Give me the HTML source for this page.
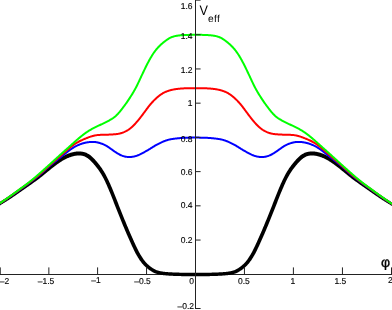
<!DOCTYPE html>
<html><head><meta charset="utf-8"><title>V_eff</title>
<style>
html,body{margin:0;padding:0;background:#fff;}
body{width:392px;height:310px;overflow:hidden;}
svg{display:block;will-change:transform;}
text{font-family:"Liberation Sans",sans-serif;fill:#000;text-rendering:geometricPrecision;}
</style></head><body>
<svg width="392" height="310" viewBox="0 0 392 310">
<rect width="392" height="310" fill="#fff"/>
<line x1="0" y1="274.5" x2="392" y2="274.5" stroke="#222" stroke-width="1"/>
<g fill="none" stroke-linejoin="round" stroke-linecap="butt">
<path fill="#000" stroke="none" d="M-1.21,206.15 L-0.71,205.85 L-0.21,205.54 L0.29,205.23 L0.79,204.92 L1.29,204.61 L1.80,204.30 L2.30,203.99 L2.80,203.68 L3.30,203.37 L3.81,203.06 L4.31,202.75 L4.81,202.44 L5.32,202.12 L5.82,201.81 L6.32,201.49 L6.83,201.17 L7.33,200.85 L7.84,200.53 L8.34,200.21 L8.84,199.89 L9.35,199.56 L9.85,199.23 L10.36,198.90 L10.87,198.56 L11.37,198.23 L11.88,197.89 L12.38,197.55 L12.89,197.21 L13.39,196.87 L13.90,196.52 L14.40,196.17 L14.90,195.83 L15.41,195.48 L15.91,195.13 L16.41,194.78 L16.92,194.43 L17.42,194.08 L17.92,193.73 L18.42,193.38 L18.92,193.03 L19.42,192.68 L19.92,192.33 L20.42,191.98 L20.93,191.63 L21.43,191.28 L21.93,190.93 L22.43,190.59 L22.93,190.24 L23.43,189.89 L23.93,189.55 L24.43,189.20 L24.93,188.86 L25.44,188.51 L25.94,188.16 L26.44,187.81 L26.94,187.46 L27.45,187.12 L27.95,186.77 L28.45,186.41 L28.96,186.06 L29.46,185.71 L29.96,185.35 L30.47,185.00 L30.97,184.64 L31.47,184.29 L31.98,183.93 L32.48,183.57 L32.98,183.21 L33.49,182.85 L33.99,182.48 L34.49,182.12 L35.00,181.76 L35.50,181.39 L36.01,181.02 L36.51,180.65 L37.02,180.28 L37.52,179.90 L38.03,179.53 L38.53,179.15 L39.04,178.76 L39.55,178.38 L40.05,177.99 L40.56,177.60 L41.07,177.20 L41.57,176.80 L42.08,176.40 L42.59,175.99 L43.09,175.58 L43.60,175.17 L44.11,174.76 L44.61,174.34 L45.12,173.93 L45.62,173.51 L46.12,173.10 L46.62,172.68 L47.13,172.26 L47.63,171.85 L48.13,171.44 L48.63,171.03 L49.13,170.63 L49.63,170.22 L50.13,169.82 L50.63,169.42 L51.13,169.02 L51.63,168.62 L52.13,168.23 L52.63,167.84 L53.13,167.45 L53.63,167.06 L54.13,166.67 L54.62,166.29 L55.12,165.91 L55.62,165.53 L56.11,165.16 L56.61,164.79 L57.10,164.43 L57.59,164.08 L58.09,163.73 L58.58,163.39 L59.07,163.05 L59.56,162.72 L60.05,162.40 L60.54,162.08 L61.02,161.77 L61.51,161.46 L62.00,161.16 L62.49,160.87 L62.98,160.58 L63.47,160.30 L63.96,160.02 L64.44,159.76 L64.93,159.49 L65.41,159.24 L65.89,158.99 L66.37,158.75 L66.85,158.52 L67.33,158.30 L67.81,158.09 L68.28,157.88 L68.76,157.69 L69.23,157.50 L69.71,157.32 L70.18,157.15 L70.65,156.99 L71.13,156.83 L71.60,156.68 L72.07,156.54 L72.53,156.41 L73.00,156.28 L73.47,156.16 L73.93,156.06 L74.40,155.96 L74.86,155.87 L75.33,155.79 L75.79,155.71 L76.25,155.65 L76.72,155.60 L77.18,155.55 L77.64,155.51 L78.09,155.49 L78.55,155.47 L79.00,155.46 L79.46,155.47 L79.90,155.48 L80.35,155.51 L80.80,155.55 L81.24,155.60 L81.68,155.67 L82.12,155.75 L82.56,155.84 L82.99,155.94 L83.42,156.07 L83.86,156.20 L84.29,156.36 L84.72,156.53 L85.15,156.73 L85.59,156.94 L86.03,157.17 L86.47,157.43 L86.91,157.71 L87.36,158.01 L87.81,158.33 L88.26,158.68 L88.72,159.05 L89.18,159.45 L89.65,159.86 L90.13,160.29 L90.60,160.75 L91.08,161.23 L91.57,161.72 L92.05,162.24 L92.54,162.77 L93.03,163.31 L93.53,163.86 L94.02,164.43 L94.51,165.01 L95.01,165.60 L95.50,166.20 L95.99,166.81 L96.49,167.43 L96.98,168.06 L97.47,168.71 L97.96,169.37 L98.46,170.05 L98.95,170.74 L99.44,171.46 L99.93,172.20 L100.42,172.96 L100.91,173.74 L101.40,174.55 L101.89,175.39 L102.39,176.26 L102.88,177.16 L103.37,178.09 L103.87,179.04 L104.36,180.03 L104.85,181.05 L105.35,182.09 L105.84,183.15 L106.34,184.24 L106.83,185.35 L107.33,186.48 L107.82,187.63 L108.32,188.79 L108.82,189.97 L109.31,191.16 L109.81,192.37 L110.31,193.59 L110.81,194.82 L111.31,196.06 L111.80,197.32 L112.30,198.58 L112.80,199.85 L113.30,201.12 L113.80,202.39 L114.30,203.67 L114.80,204.95 L115.30,206.22 L115.80,207.50 L116.30,208.77 L116.80,210.04 L117.30,211.30 L117.80,212.56 L118.31,213.82 L118.81,215.07 L119.31,216.32 L119.81,217.56 L120.31,218.80 L120.81,220.04 L121.31,221.27 L121.81,222.49 L122.31,223.71 L122.81,224.92 L123.32,226.13 L123.82,227.33 L124.32,228.52 L124.82,229.71 L125.32,230.89 L125.82,232.07 L126.32,233.24 L126.83,234.40 L127.33,235.55 L127.83,236.70 L128.33,237.84 L128.83,238.98 L129.33,240.10 L129.84,241.23 L130.34,242.34 L130.84,243.45 L131.34,244.55 L131.84,245.64 L132.35,246.72 L132.85,247.80 L133.35,248.85 L133.86,249.90 L134.37,250.93 L134.87,251.93 L135.38,252.92 L135.89,253.88 L136.40,254.82 L136.91,255.73 L137.43,256.62 L137.94,257.48 L138.46,258.31 L138.97,259.11 L139.49,259.89 L140.01,260.64 L140.53,261.37 L141.05,262.07 L141.58,262.74 L142.10,263.39 L142.63,264.01 L143.15,264.61 L143.68,265.19 L144.21,265.74 L144.74,266.26 L145.26,266.77 L145.79,267.25 L146.32,267.72 L146.85,268.17 L147.37,268.60 L147.90,269.01 L148.43,269.41 L148.95,269.80 L149.48,270.17 L150.00,270.53 L150.53,270.87 L151.05,271.21 L151.58,271.53 L152.11,271.84 L152.65,272.14 L153.18,272.42 L153.72,272.69 L154.26,272.95 L154.81,273.19 L155.35,273.41 L155.90,273.61 L156.44,273.80 L156.99,273.97 L157.53,274.13 L158.07,274.27 L158.60,274.39 L159.14,274.51 L159.67,274.61 L160.19,274.71 L160.71,274.80 L161.23,274.88 L161.75,274.96 L162.27,275.03 L162.78,275.09 L163.29,275.15 L163.81,275.21 L164.32,275.26 L164.83,275.32 L165.34,275.36 L165.85,275.41 L166.36,275.45 L166.86,275.49 L167.37,275.53 L167.88,275.57 L168.38,275.61 L168.89,275.64 L169.39,275.67 L169.90,275.70 L170.40,275.73 L170.91,275.76 L171.41,275.78 L171.92,275.81 L172.42,275.83 L172.92,275.86 L173.43,275.88 L173.93,275.90 L174.43,275.92 L174.93,275.94 L175.44,275.96 L175.94,275.97 L176.44,275.99 L176.94,276.01 L177.44,276.03 L177.95,276.04 L178.45,276.06 L178.95,276.07 L179.45,276.09 L179.95,276.10 L180.46,276.11 L180.96,276.12 L181.46,276.14 L181.97,276.15 L182.47,276.16 L182.97,276.16 L183.47,276.17 L183.98,276.18 L184.48,276.19 L184.98,276.19 L185.48,276.20 L185.98,276.20 L186.49,276.21 L186.99,276.21 L187.49,276.21 L187.99,276.22 L188.49,276.22 L188.99,276.22 L189.50,276.22 L190.00,276.22 L190.50,276.22 L191.00,276.22 L191.50,276.22 L192.00,276.22 L192.50,276.22 L193.00,276.22 L193.50,276.22 L194.00,276.22 L194.50,276.22 L195.00,276.22 L195.50,276.22 L196.00,276.22 L196.50,276.22 L197.00,276.22 L197.50,276.22 L198.00,276.22 L198.50,276.22 L199.00,276.22 L199.50,276.22 L200.00,276.22 L200.50,276.22 L201.00,276.22 L201.50,276.22 L202.01,276.22 L202.51,276.22 L203.01,276.22 L203.51,276.21 L204.01,276.21 L204.51,276.21 L205.02,276.20 L205.52,276.20 L206.02,276.19 L206.52,276.19 L207.02,276.18 L207.53,276.17 L208.03,276.16 L208.53,276.16 L209.03,276.15 L209.54,276.14 L210.04,276.12 L210.54,276.11 L211.05,276.10 L211.55,276.09 L212.05,276.07 L212.55,276.06 L213.05,276.04 L213.56,276.03 L214.06,276.01 L214.56,275.99 L215.06,275.97 L215.56,275.96 L216.07,275.94 L216.57,275.92 L217.07,275.90 L217.57,275.88 L218.08,275.86 L218.58,275.83 L219.08,275.81 L219.59,275.78 L220.09,275.76 L220.60,275.73 L221.10,275.70 L221.61,275.67 L222.11,275.64 L222.62,275.61 L223.12,275.57 L223.63,275.53 L224.14,275.49 L224.64,275.45 L225.15,275.41 L225.66,275.36 L226.17,275.32 L226.68,275.26 L227.19,275.21 L227.71,275.15 L228.22,275.09 L228.73,275.03 L229.25,274.96 L229.77,274.88 L230.29,274.80 L230.81,274.71 L231.33,274.61 L231.86,274.51 L232.40,274.39 L232.93,274.27 L233.47,274.13 L234.01,273.97 L234.56,273.80 L235.10,273.61 L235.65,273.41 L236.19,273.19 L236.74,272.95 L237.28,272.69 L237.82,272.42 L238.35,272.14 L238.89,271.84 L239.42,271.53 L239.95,271.21 L240.47,270.87 L241.00,270.53 L241.52,270.17 L242.05,269.80 L242.57,269.41 L243.10,269.01 L243.63,268.60 L244.15,268.17 L244.68,267.72 L245.21,267.25 L245.74,266.77 L246.26,266.26 L246.79,265.74 L247.32,265.19 L247.85,264.61 L248.37,264.01 L248.90,263.39 L249.42,262.74 L249.95,262.07 L250.47,261.37 L250.99,260.64 L251.51,259.89 L252.03,259.11 L252.54,258.31 L253.06,257.48 L253.57,256.62 L254.09,255.73 L254.60,254.82 L255.11,253.88 L255.62,252.92 L256.13,251.93 L256.63,250.93 L257.14,249.90 L257.65,248.85 L258.15,247.80 L258.65,246.72 L259.16,245.64 L259.66,244.55 L260.16,243.45 L260.66,242.34 L261.16,241.23 L261.67,240.10 L262.17,238.98 L262.67,237.84 L263.17,236.70 L263.67,235.55 L264.17,234.40 L264.68,233.24 L265.18,232.07 L265.68,230.89 L266.18,229.71 L266.68,228.52 L267.18,227.33 L267.68,226.13 L268.19,224.92 L268.69,223.71 L269.19,222.49 L269.69,221.27 L270.19,220.04 L270.69,218.80 L271.19,217.56 L271.69,216.32 L272.19,215.07 L272.69,213.82 L273.20,212.56 L273.70,211.30 L274.20,210.04 L274.70,208.77 L275.20,207.50 L275.70,206.22 L276.20,204.95 L276.70,203.67 L277.20,202.39 L277.70,201.12 L278.20,199.85 L278.70,198.58 L279.20,197.32 L279.69,196.06 L280.19,194.82 L280.69,193.59 L281.19,192.37 L281.69,191.16 L282.18,189.97 L282.68,188.79 L283.18,187.63 L283.67,186.48 L284.17,185.35 L284.66,184.24 L285.16,183.15 L285.65,182.09 L286.15,181.05 L286.64,180.03 L287.13,179.04 L287.63,178.09 L288.12,177.16 L288.61,176.26 L289.11,175.39 L289.60,174.55 L290.09,173.74 L290.58,172.96 L291.07,172.20 L291.56,171.46 L292.05,170.74 L292.54,170.05 L293.04,169.37 L293.53,168.71 L294.02,168.06 L294.51,167.43 L295.01,166.81 L295.50,166.20 L295.99,165.60 L296.49,165.01 L296.98,164.43 L297.47,163.86 L297.97,163.31 L298.46,162.77 L298.95,162.24 L299.43,161.72 L299.92,161.23 L300.40,160.75 L300.87,160.29 L301.35,159.86 L301.82,159.45 L302.28,159.05 L302.74,158.68 L303.19,158.33 L303.64,158.01 L304.09,157.71 L304.53,157.43 L304.97,157.17 L305.41,156.94 L305.85,156.73 L306.28,156.53 L306.71,156.36 L307.14,156.20 L307.58,156.07 L308.01,155.94 L308.44,155.84 L308.88,155.75 L309.32,155.67 L309.76,155.60 L310.20,155.55 L310.65,155.51 L311.10,155.48 L311.54,155.47 L312.00,155.46 L312.45,155.47 L312.91,155.49 L313.36,155.51 L313.82,155.55 L314.28,155.60 L314.75,155.65 L315.21,155.71 L315.67,155.79 L316.14,155.87 L316.60,155.96 L317.07,156.06 L317.53,156.16 L318.00,156.28 L318.47,156.41 L318.93,156.54 L319.40,156.68 L319.87,156.83 L320.35,156.99 L320.82,157.15 L321.29,157.32 L321.77,157.50 L322.24,157.69 L322.72,157.88 L323.19,158.09 L323.67,158.30 L324.15,158.52 L324.63,158.75 L325.11,158.99 L325.59,159.24 L326.07,159.49 L326.56,159.76 L327.04,160.02 L327.53,160.30 L328.02,160.58 L328.51,160.87 L329.00,161.16 L329.49,161.46 L329.98,161.77 L330.46,162.08 L330.95,162.40 L331.44,162.72 L331.93,163.05 L332.42,163.39 L332.91,163.73 L333.41,164.08 L333.90,164.43 L334.39,164.79 L334.89,165.16 L335.38,165.53 L335.88,165.91 L336.38,166.29 L336.87,166.67 L337.37,167.06 L337.87,167.45 L338.37,167.84 L338.87,168.23 L339.37,168.62 L339.87,169.02 L340.37,169.42 L340.87,169.82 L341.37,170.22 L341.87,170.63 L342.37,171.03 L342.87,171.44 L343.37,171.85 L343.87,172.26 L344.38,172.68 L344.88,173.10 L345.38,173.51 L345.88,173.93 L346.39,174.34 L346.89,174.76 L347.40,175.17 L347.91,175.58 L348.41,175.99 L348.92,176.40 L349.43,176.80 L349.93,177.20 L350.44,177.60 L350.95,177.99 L351.45,178.38 L351.96,178.76 L352.47,179.15 L352.97,179.53 L353.48,179.90 L353.98,180.28 L354.49,180.65 L354.99,181.02 L355.50,181.39 L356.00,181.76 L356.51,182.12 L357.01,182.48 L357.51,182.85 L358.02,183.21 L358.52,183.57 L359.02,183.93 L359.53,184.29 L360.03,184.64 L360.53,185.00 L361.04,185.35 L361.54,185.71 L362.04,186.06 L362.55,186.41 L363.05,186.77 L363.55,187.12 L364.06,187.46 L364.56,187.81 L365.06,188.16 L365.56,188.51 L366.07,188.86 L366.57,189.20 L367.07,189.55 L367.57,189.89 L368.07,190.24 L368.57,190.59 L369.07,190.93 L369.57,191.28 L370.07,191.63 L370.58,191.98 L371.08,192.33 L371.58,192.68 L372.08,193.03 L372.58,193.38 L373.08,193.73 L373.58,194.08 L374.08,194.43 L374.59,194.78 L375.09,195.13 L375.59,195.48 L376.10,195.83 L376.60,196.17 L377.10,196.52 L377.61,196.87 L378.11,197.21 L378.62,197.55 L379.12,197.89 L379.63,198.23 L380.13,198.56 L380.64,198.90 L381.15,199.23 L381.65,199.56 L382.16,199.89 L382.66,200.21 L383.16,200.53 L383.67,200.85 L384.17,201.17 L384.68,201.49 L385.18,201.81 L385.68,202.12 L386.19,202.44 L386.69,202.75 L387.19,203.06 L387.70,203.37 L388.20,203.68 L388.70,203.99 L389.20,204.30 L389.71,204.61 L390.21,204.92 L390.71,205.23 L391.21,205.54 L391.71,205.85 L392.21,206.15 L392.72,206.46 L393.22,206.77 L394.78,204.21 L394.28,203.90 L393.79,203.60 L393.29,203.29 L392.79,202.98 L392.29,202.68 L391.79,202.36 L391.29,202.05 L390.80,201.74 L390.30,201.43 L389.80,201.12 L389.30,200.80 L388.81,200.49 L388.31,200.17 L387.81,199.86 L387.32,199.54 L386.82,199.22 L386.32,198.91 L385.83,198.59 L385.33,198.27 L384.84,197.94 L384.34,197.62 L383.84,197.29 L383.35,196.97 L382.85,196.64 L382.36,196.31 L381.87,195.98 L381.37,195.64 L380.88,195.30 L380.38,194.96 L379.89,194.62 L379.39,194.28 L378.90,193.93 L378.40,193.59 L377.90,193.24 L377.41,192.89 L376.91,192.54 L376.41,192.18 L375.92,191.83 L375.42,191.47 L374.92,191.12 L374.42,190.76 L373.92,190.41 L373.42,190.05 L372.92,189.70 L372.42,189.34 L371.93,188.99 L371.43,188.64 L370.93,188.28 L370.43,187.93 L369.93,187.58 L369.43,187.23 L368.93,186.88 L368.43,186.53 L367.93,186.18 L367.44,185.83 L366.94,185.48 L366.44,185.12 L365.94,184.77 L365.45,184.42 L364.95,184.07 L364.45,183.71 L363.96,183.36 L363.46,183.00 L362.96,182.65 L362.47,182.29 L361.97,181.93 L361.47,181.57 L360.98,181.21 L360.48,180.85 L359.98,180.49 L359.49,180.13 L358.99,179.76 L358.49,179.40 L358.00,179.03 L357.50,178.67 L357.01,178.30 L356.51,177.93 L356.02,177.56 L355.52,177.18 L355.03,176.81 L354.53,176.43 L354.04,176.05 L353.55,175.67 L353.05,175.28 L352.56,174.89 L352.07,174.50 L351.57,174.11 L351.08,173.71 L350.59,173.31 L350.09,172.90 L349.60,172.49 L349.11,172.08 L348.61,171.67 L348.12,171.25 L347.62,170.83 L347.12,170.41 L346.62,169.99 L346.13,169.57 L345.63,169.15 L345.13,168.73 L344.63,168.31 L344.13,167.89 L343.63,167.47 L343.13,167.05 L342.63,166.64 L342.13,166.23 L341.63,165.82 L341.13,165.41 L340.63,165.00 L340.13,164.60 L339.63,164.20 L339.13,163.80 L338.62,163.40 L338.12,163.00 L337.62,162.61 L337.11,162.22 L336.61,161.83 L336.10,161.45 L335.59,161.07 L335.09,160.70 L334.58,160.33 L334.07,159.97 L333.56,159.61 L333.05,159.26 L332.54,158.92 L332.02,158.58 L331.51,158.25 L331.00,157.92 L330.49,157.61 L329.98,157.29 L329.47,156.98 L328.96,156.68 L328.44,156.39 L327.93,156.10 L327.41,155.81 L326.89,155.54 L326.37,155.27 L325.85,155.00 L325.33,154.75 L324.81,154.50 L324.28,154.27 L323.76,154.04 L323.23,153.82 L322.71,153.61 L322.18,153.41 L321.65,153.22 L321.13,153.03 L320.60,152.86 L320.07,152.70 L319.53,152.55 L319.00,152.41 L318.47,152.27 L317.93,152.15 L317.40,152.04 L316.86,151.93 L316.33,151.84 L315.79,151.76 L315.25,151.68 L314.72,151.62 L314.18,151.57 L313.64,151.52 L313.09,151.49 L312.55,151.47 L312.00,151.46 L311.46,151.47 L310.90,151.49 L310.35,151.52 L309.80,151.57 L309.24,151.64 L308.68,151.72 L308.12,151.82 L307.56,151.94 L306.99,152.08 L306.42,152.24 L305.86,152.42 L305.29,152.62 L304.72,152.85 L304.15,153.10 L303.59,153.38 L303.03,153.68 L302.47,154.01 L301.91,154.35 L301.36,154.73 L300.81,155.12 L300.26,155.54 L299.72,155.98 L299.18,156.44 L298.65,156.92 L298.13,157.42 L297.60,157.94 L297.08,158.47 L296.57,159.01 L296.05,159.57 L295.54,160.14 L295.03,160.73 L294.53,161.32 L294.02,161.92 L293.51,162.53 L293.01,163.15 L292.50,163.79 L291.99,164.43 L291.49,165.09 L290.98,165.76 L290.47,166.45 L289.96,167.15 L289.46,167.87 L288.95,168.61 L288.44,169.38 L287.93,170.16 L287.42,170.97 L286.91,171.81 L286.40,172.67 L285.89,173.56 L285.39,174.48 L284.88,175.43 L284.37,176.40 L283.87,177.40 L283.36,178.42 L282.85,179.47 L282.35,180.54 L281.84,181.63 L281.34,182.74 L280.83,183.87 L280.33,185.02 L279.82,186.18 L279.32,187.36 L278.82,188.56 L278.31,189.76 L277.81,190.98 L277.31,192.22 L276.81,193.46 L276.31,194.71 L275.80,195.97 L275.30,197.24 L274.80,198.51 L274.30,199.79 L273.80,201.06 L273.30,202.34 L272.80,203.62 L272.30,204.89 L271.80,206.16 L271.30,207.43 L270.80,208.69 L270.30,209.96 L269.80,211.21 L269.31,212.47 L268.81,213.71 L268.31,214.96 L267.81,216.20 L267.31,217.43 L266.81,218.66 L266.31,219.89 L265.81,221.10 L265.31,222.32 L264.81,223.52 L264.32,224.73 L263.82,225.92 L263.32,227.11 L262.82,228.29 L262.32,229.47 L261.82,230.63 L261.32,231.79 L260.83,232.95 L260.33,234.10 L259.83,235.24 L259.33,236.37 L258.83,237.50 L258.33,238.62 L257.84,239.73 L257.34,240.84 L256.84,241.94 L256.34,243.03 L255.84,244.11 L255.35,245.18 L254.85,246.23 L254.35,247.27 L253.86,248.30 L253.37,249.30 L252.87,250.28 L252.38,251.23 L251.89,252.16 L251.40,253.05 L250.91,253.93 L250.43,254.77 L249.94,255.58 L249.46,256.37 L248.97,257.12 L248.49,257.85 L248.01,258.55 L247.53,259.23 L247.05,259.88 L246.58,260.49 L246.10,261.09 L245.63,261.66 L245.15,262.20 L244.68,262.72 L244.21,263.22 L243.74,263.69 L243.26,264.15 L242.79,264.59 L242.32,265.01 L241.85,265.42 L241.37,265.81 L240.90,266.18 L240.43,266.55 L239.95,266.90 L239.48,267.24 L239.00,267.57 L238.53,267.89 L238.05,268.19 L237.58,268.49 L237.11,268.76 L236.65,269.03 L236.18,269.28 L235.72,269.51 L235.26,269.73 L234.81,269.94 L234.35,270.13 L233.90,270.30 L233.44,270.46 L232.99,270.61 L232.53,270.74 L232.07,270.87 L231.60,270.98 L231.14,271.09 L230.67,271.19 L230.19,271.28 L229.71,271.36 L229.23,271.44 L228.75,271.51 L228.27,271.58 L227.78,271.65 L227.29,271.71 L226.81,271.77 L226.32,271.83 L225.83,271.88 L225.34,271.93 L224.85,271.97 L224.36,272.02 L223.86,272.06 L223.37,272.09 L222.88,272.13 L222.38,272.16 L221.89,272.20 L221.39,272.23 L220.90,272.26 L220.40,272.29 L219.91,272.31 L219.41,272.34 L218.92,272.36 L218.42,272.39 L217.92,272.41 L217.43,272.43 L216.93,272.45 L216.43,272.47 L215.93,272.49 L215.44,272.51 L214.94,272.53 L214.44,272.54 L213.94,272.56 L213.44,272.58 L212.95,272.59 L212.45,272.61 L211.95,272.62 L211.45,272.64 L210.95,272.65 L210.46,272.66 L209.96,272.67 L209.46,272.69 L208.97,272.70 L208.47,272.71 L207.97,272.71 L207.47,272.72 L206.98,272.73 L206.48,272.74 L205.98,272.74 L205.48,272.75 L204.98,272.75 L204.49,272.76 L203.99,272.76 L203.49,272.76 L202.99,272.77 L202.49,272.77 L201.99,272.77 L201.50,272.77 L201.00,272.77 L200.50,272.77 L200.00,272.77 L199.50,272.77 L199.00,272.77 L198.50,272.77 L198.00,272.77 L197.50,272.77 L197.00,272.77 L196.50,272.77 L196.00,272.77 L195.50,272.77 L195.00,272.77 L194.50,272.77 L194.00,272.77 L193.50,272.77 L193.00,272.77 L192.50,272.77 L192.00,272.77 L191.50,272.77 L191.00,272.77 L190.50,272.77 L190.00,272.77 L189.50,272.77 L189.01,272.77 L188.51,272.77 L188.01,272.77 L187.51,272.76 L187.01,272.76 L186.51,272.76 L186.02,272.75 L185.52,272.75 L185.02,272.74 L184.52,272.74 L184.02,272.73 L183.53,272.72 L183.03,272.71 L182.53,272.71 L182.03,272.70 L181.54,272.69 L181.04,272.67 L180.54,272.66 L180.05,272.65 L179.55,272.64 L179.05,272.62 L178.55,272.61 L178.05,272.59 L177.56,272.58 L177.06,272.56 L176.56,272.54 L176.06,272.53 L175.56,272.51 L175.07,272.49 L174.57,272.47 L174.07,272.45 L173.57,272.43 L173.08,272.41 L172.58,272.39 L172.08,272.36 L171.59,272.34 L171.09,272.31 L170.60,272.29 L170.10,272.26 L169.61,272.23 L169.11,272.20 L168.62,272.16 L168.12,272.13 L167.63,272.09 L167.14,272.06 L166.64,272.02 L166.15,271.97 L165.66,271.93 L165.17,271.88 L164.68,271.83 L164.19,271.77 L163.71,271.71 L163.22,271.65 L162.73,271.58 L162.25,271.51 L161.77,271.44 L161.29,271.36 L160.81,271.28 L160.33,271.19 L159.86,271.09 L159.40,270.98 L158.93,270.87 L158.47,270.74 L158.01,270.61 L157.56,270.46 L157.10,270.30 L156.65,270.13 L156.19,269.94 L155.74,269.73 L155.28,269.51 L154.82,269.28 L154.35,269.03 L153.89,268.76 L153.42,268.49 L152.95,268.19 L152.47,267.89 L152.00,267.57 L151.52,267.24 L151.05,266.90 L150.57,266.55 L150.10,266.18 L149.63,265.81 L149.15,265.42 L148.68,265.01 L148.21,264.59 L147.74,264.15 L147.26,263.69 L146.79,263.22 L146.32,262.72 L145.85,262.20 L145.37,261.66 L144.90,261.09 L144.42,260.49 L143.95,259.88 L143.47,259.23 L142.99,258.55 L142.51,257.85 L142.03,257.12 L141.54,256.37 L141.06,255.58 L140.57,254.77 L140.09,253.93 L139.60,253.05 L139.11,252.16 L138.62,251.23 L138.13,250.28 L137.63,249.30 L137.14,248.30 L136.65,247.27 L136.15,246.23 L135.65,245.18 L135.16,244.11 L134.66,243.03 L134.16,241.94 L133.66,240.84 L133.16,239.73 L132.67,238.62 L132.17,237.50 L131.67,236.37 L131.17,235.24 L130.67,234.10 L130.17,232.95 L129.68,231.79 L129.18,230.63 L128.68,229.47 L128.18,228.29 L127.68,227.11 L127.18,225.92 L126.68,224.73 L126.19,223.52 L125.69,222.32 L125.19,221.10 L124.69,219.89 L124.19,218.66 L123.69,217.43 L123.19,216.20 L122.69,214.96 L122.19,213.71 L121.69,212.47 L121.20,211.21 L120.70,209.96 L120.20,208.69 L119.70,207.43 L119.20,206.16 L118.70,204.89 L118.20,203.62 L117.70,202.34 L117.20,201.06 L116.70,199.79 L116.20,198.51 L115.70,197.24 L115.20,195.97 L114.69,194.71 L114.19,193.46 L113.69,192.22 L113.19,190.98 L112.69,189.76 L112.18,188.56 L111.68,187.36 L111.18,186.18 L110.67,185.02 L110.17,183.87 L109.66,182.74 L109.16,181.63 L108.65,180.54 L108.15,179.47 L107.64,178.42 L107.13,177.40 L106.63,176.40 L106.12,175.43 L105.61,174.48 L105.11,173.56 L104.60,172.67 L104.09,171.81 L103.58,170.97 L103.07,170.16 L102.56,169.38 L102.05,168.61 L101.54,167.87 L101.04,167.15 L100.53,166.45 L100.02,165.76 L99.51,165.09 L99.01,164.43 L98.50,163.79 L97.99,163.15 L97.49,162.53 L96.98,161.92 L96.47,161.32 L95.97,160.73 L95.46,160.14 L94.95,159.57 L94.43,159.01 L93.92,158.47 L93.40,157.94 L92.87,157.42 L92.35,156.92 L91.82,156.44 L91.28,155.98 L90.74,155.54 L90.19,155.12 L89.64,154.73 L89.09,154.35 L88.53,154.01 L87.97,153.68 L87.41,153.38 L86.85,153.10 L86.28,152.85 L85.71,152.62 L85.14,152.42 L84.58,152.24 L84.01,152.08 L83.44,151.94 L82.88,151.82 L82.32,151.72 L81.76,151.64 L81.20,151.57 L80.65,151.52 L80.10,151.49 L79.54,151.47 L79.00,151.46 L78.45,151.47 L77.91,151.49 L77.36,151.52 L76.82,151.57 L76.28,151.62 L75.75,151.68 L75.21,151.76 L74.67,151.84 L74.14,151.93 L73.60,152.04 L73.07,152.15 L72.53,152.27 L72.00,152.41 L71.47,152.55 L70.93,152.70 L70.40,152.86 L69.87,153.03 L69.35,153.22 L68.82,153.41 L68.29,153.61 L67.77,153.82 L67.24,154.04 L66.72,154.27 L66.19,154.50 L65.67,154.75 L65.15,155.00 L64.63,155.27 L64.11,155.54 L63.59,155.81 L63.07,156.10 L62.56,156.39 L62.04,156.68 L61.53,156.98 L61.02,157.29 L60.51,157.61 L60.00,157.92 L59.49,158.25 L58.98,158.58 L58.46,158.92 L57.95,159.26 L57.44,159.61 L56.93,159.97 L56.42,160.33 L55.91,160.70 L55.41,161.07 L54.90,161.45 L54.39,161.83 L53.89,162.22 L53.38,162.61 L52.88,163.00 L52.38,163.40 L51.87,163.80 L51.37,164.20 L50.87,164.60 L50.37,165.00 L49.87,165.41 L49.37,165.82 L48.87,166.23 L48.37,166.64 L47.87,167.05 L47.37,167.47 L46.87,167.89 L46.37,168.31 L45.87,168.73 L45.37,169.15 L44.87,169.57 L44.38,169.99 L43.88,170.41 L43.38,170.83 L42.88,171.25 L42.39,171.67 L41.89,172.08 L41.40,172.49 L40.91,172.90 L40.41,173.31 L39.92,173.71 L39.43,174.11 L38.93,174.50 L38.44,174.89 L37.95,175.28 L37.45,175.67 L36.96,176.05 L36.47,176.43 L35.97,176.81 L35.48,177.18 L34.98,177.56 L34.49,177.93 L33.99,178.30 L33.50,178.67 L33.00,179.03 L32.51,179.40 L32.01,179.76 L31.51,180.13 L31.02,180.49 L30.52,180.85 L30.02,181.21 L29.53,181.57 L29.03,181.93 L28.53,182.29 L28.04,182.65 L27.54,183.00 L27.04,183.36 L26.55,183.71 L26.05,184.07 L25.55,184.42 L25.06,184.77 L24.56,185.12 L24.06,185.48 L23.56,185.83 L23.07,186.18 L22.57,186.53 L22.07,186.88 L21.57,187.23 L21.07,187.58 L20.57,187.93 L20.07,188.28 L19.57,188.64 L19.07,188.99 L18.58,189.34 L18.08,189.70 L17.58,190.05 L17.08,190.41 L16.58,190.76 L16.08,191.12 L15.58,191.47 L15.08,191.83 L14.59,192.18 L14.09,192.54 L13.59,192.89 L13.10,193.24 L12.60,193.59 L12.10,193.93 L11.61,194.28 L11.11,194.62 L10.62,194.96 L10.12,195.30 L9.63,195.64 L9.13,195.98 L8.64,196.31 L8.15,196.64 L7.65,196.97 L7.16,197.29 L6.66,197.62 L6.16,197.94 L5.67,198.27 L5.17,198.59 L4.68,198.91 L4.18,199.22 L3.68,199.54 L3.19,199.86 L2.69,200.17 L2.19,200.49 L1.70,200.80 L1.20,201.12 L0.70,201.43 L0.20,201.74 L-0.29,202.05 L-0.79,202.36 L-1.29,202.68 L-1.79,202.98 L-2.29,203.29 L-2.79,203.60Z"/>
<path stroke="#0000ff" stroke-width="2.0" d="M-2.0,204.68 L-1.5,204.34 L-1.0,204.01 L-0.5,203.68 L0.0,203.35 L0.5,203.02 L1.0,202.69 L1.5,202.36 L2.0,202.03 L2.5,201.70 L3.0,201.37 L3.5,201.04 L4.0,200.71 L4.5,200.38 L5.0,200.05 L5.5,199.71 L6.0,199.38 L6.5,199.05 L7.0,198.71 L7.5,198.38 L8.0,198.04 L8.5,197.70 L9.0,197.36 L9.5,197.02 L10.0,196.68 L10.5,196.33 L11.0,195.99 L11.5,195.64 L12.0,195.29 L12.5,194.94 L13.0,194.59 L13.5,194.24 L14.0,193.89 L14.5,193.53 L15.0,193.18 L15.5,192.82 L16.0,192.46 L16.5,192.11 L17.0,191.75 L17.5,191.39 L18.0,191.03 L18.5,190.68 L19.0,190.32 L19.5,189.96 L20.0,189.60 L20.5,189.25 L21.0,188.89 L21.5,188.53 L22.0,188.17 L22.5,187.82 L23.0,187.46 L23.5,187.10 L24.0,186.74 L24.5,186.39 L25.0,186.03 L25.5,185.67 L26.0,185.31 L26.5,184.95 L27.0,184.58 L27.5,184.22 L28.0,183.86 L28.5,183.49 L29.0,183.12 L29.5,182.76 L30.0,182.39 L30.5,182.02 L31.0,181.65 L31.5,181.27 L32.0,180.90 L32.5,180.53 L33.0,180.15 L33.5,179.77 L34.0,179.39 L34.5,179.01 L35.0,178.63 L35.5,178.25 L36.0,177.86 L36.5,177.47 L37.0,177.07 L37.5,176.68 L38.0,176.28 L38.5,175.87 L39.0,175.46 L39.5,175.05 L40.0,174.63 L40.5,174.20 L41.0,173.77 L41.5,173.34 L42.0,172.90 L42.5,172.46 L43.0,172.01 L43.5,171.56 L44.0,171.11 L44.5,170.65 L45.0,170.20 L45.5,169.74 L46.0,169.28 L46.5,168.83 L47.0,168.37 L47.5,167.92 L48.0,167.48 L48.5,167.03 L49.0,166.59 L49.5,166.16 L50.0,165.73 L50.5,165.30 L51.0,164.88 L51.5,164.47 L52.0,164.06 L52.5,163.65 L53.0,163.24 L53.5,162.84 L54.0,162.45 L54.5,162.05 L55.0,161.66 L55.5,161.27 L56.0,160.88 L56.5,160.49 L57.0,160.10 L57.5,159.71 L58.0,159.32 L58.5,158.93 L59.0,158.54 L59.5,158.14 L60.0,157.75 L60.5,157.35 L61.0,156.95 L61.5,156.55 L62.0,156.15 L62.5,155.75 L63.0,155.35 L63.5,154.95 L64.0,154.55 L64.5,154.15 L65.0,153.75 L65.5,153.35 L66.0,152.95 L66.5,152.56 L67.0,152.16 L67.5,151.77 L68.0,151.38 L68.5,151.00 L69.0,150.62 L69.5,150.25 L70.0,149.88 L70.5,149.52 L71.0,149.16 L71.5,148.82 L72.0,148.48 L72.5,148.16 L73.0,147.84 L73.5,147.53 L74.0,147.24 L74.5,146.95 L75.0,146.67 L75.5,146.41 L76.0,146.15 L76.5,145.90 L77.0,145.65 L77.5,145.42 L78.0,145.19 L78.5,144.97 L79.0,144.76 L79.5,144.55 L80.0,144.36 L80.5,144.16 L81.0,143.98 L81.5,143.80 L82.0,143.63 L82.5,143.47 L83.0,143.32 L83.5,143.18 L84.0,143.04 L84.5,142.91 L85.0,142.79 L85.5,142.68 L86.0,142.58 L86.5,142.49 L87.0,142.40 L87.5,142.32 L88.0,142.24 L88.5,142.18 L89.0,142.12 L89.5,142.07 L90.0,142.02 L90.5,141.98 L91.0,141.96 L91.5,141.94 L92.0,141.93 L92.5,141.92 L93.0,141.93 L93.5,141.95 L94.0,141.97 L94.5,142.01 L95.0,142.06 L95.5,142.11 L96.0,142.18 L96.5,142.25 L97.0,142.34 L97.5,142.44 L98.0,142.55 L98.5,142.67 L99.0,142.80 L99.5,142.94 L100.0,143.09 L100.5,143.26 L101.0,143.43 L101.5,143.61 L102.0,143.79 L102.5,143.99 L103.0,144.19 L103.5,144.41 L104.0,144.63 L104.5,144.87 L105.0,145.12 L105.5,145.38 L106.0,145.65 L106.5,145.93 L107.0,146.23 L107.5,146.53 L108.0,146.85 L108.5,147.18 L109.0,147.52 L109.5,147.87 L110.0,148.22 L110.5,148.58 L111.0,148.94 L111.5,149.30 L112.0,149.66 L112.5,150.03 L113.0,150.39 L113.5,150.74 L114.0,151.10 L114.5,151.45 L115.0,151.79 L115.5,152.12 L116.0,152.45 L116.5,152.77 L117.0,153.08 L117.5,153.39 L118.0,153.68 L118.5,153.97 L119.0,154.24 L119.5,154.50 L120.0,154.76 L120.5,155.00 L121.0,155.23 L121.5,155.44 L122.0,155.65 L122.5,155.83 L123.0,156.01 L123.5,156.16 L124.0,156.31 L124.5,156.44 L125.0,156.55 L125.5,156.65 L126.0,156.74 L126.5,156.82 L127.0,156.88 L127.5,156.93 L128.0,156.98 L128.5,157.00 L129.0,157.02 L129.5,157.03 L130.0,157.02 L130.5,157.00 L131.0,156.96 L131.5,156.92 L132.0,156.86 L132.5,156.79 L133.0,156.71 L133.5,156.61 L134.0,156.51 L134.5,156.40 L135.0,156.27 L135.5,156.14 L136.0,155.99 L136.5,155.83 L137.0,155.66 L137.5,155.48 L138.0,155.29 L138.5,155.09 L139.0,154.87 L139.5,154.65 L140.0,154.41 L140.5,154.17 L141.0,153.92 L141.5,153.66 L142.0,153.40 L142.5,153.13 L143.0,152.86 L143.5,152.58 L144.0,152.31 L144.5,152.03 L145.0,151.75 L145.5,151.47 L146.0,151.19 L146.5,150.91 L147.0,150.62 L147.5,150.33 L148.0,150.04 L148.5,149.74 L149.0,149.44 L149.5,149.13 L150.0,148.83 L150.5,148.51 L151.0,148.20 L151.5,147.88 L152.0,147.57 L152.5,147.25 L153.0,146.94 L153.5,146.63 L154.0,146.32 L154.5,146.02 L155.0,145.72 L155.5,145.43 L156.0,145.14 L156.5,144.86 L157.0,144.59 L157.5,144.32 L158.0,144.05 L158.5,143.79 L159.0,143.54 L159.5,143.29 L160.0,143.04 L160.5,142.80 L161.0,142.56 L161.5,142.33 L162.0,142.10 L162.5,141.88 L163.0,141.67 L163.5,141.46 L164.0,141.26 L164.5,141.06 L165.0,140.88 L165.5,140.70 L166.0,140.52 L166.5,140.35 L167.0,140.19 L167.5,140.04 L168.0,139.90 L168.5,139.77 L169.0,139.64 L169.5,139.52 L170.0,139.41 L170.5,139.31 L171.0,139.21 L171.5,139.12 L172.0,139.04 L172.5,138.96 L173.0,138.89 L173.5,138.82 L174.0,138.75 L174.5,138.69 L175.0,138.63 L175.5,138.57 L176.0,138.51 L176.5,138.46 L177.0,138.40 L177.5,138.35 L178.0,138.30 L178.5,138.25 L179.0,138.20 L179.5,138.16 L180.0,138.11 L180.5,138.07 L181.0,138.03 L181.5,138.00 L182.0,137.96 L182.5,137.93 L183.0,137.90 L183.5,137.87 L184.0,137.84 L184.5,137.82 L185.0,137.79 L185.5,137.77 L186.0,137.75 L186.5,137.73 L187.0,137.72 L187.5,137.70 L188.0,137.69 L188.5,137.68 L189.0,137.67 L189.5,137.66 L190.0,137.65 L190.5,137.64 L191.0,137.63 L191.5,137.63 L192.0,137.62 L192.5,137.62 L193.0,137.62 L193.5,137.61 L194.0,137.61 L194.5,137.61 L195.0,137.61 L195.5,137.61 L196.0,137.61 L196.5,137.61 L197.0,137.61 L197.5,137.61 L198.0,137.62 L198.5,137.62 L199.0,137.62 L199.5,137.63 L200.0,137.63 L200.5,137.64 L201.0,137.65 L201.5,137.66 L202.0,137.67 L202.5,137.68 L203.0,137.69 L203.5,137.70 L204.0,137.72 L204.5,137.73 L205.0,137.75 L205.5,137.77 L206.0,137.79 L206.5,137.82 L207.0,137.84 L207.5,137.87 L208.0,137.90 L208.5,137.93 L209.0,137.96 L209.5,138.00 L210.0,138.03 L210.5,138.07 L211.0,138.11 L211.5,138.16 L212.0,138.20 L212.5,138.25 L213.0,138.30 L213.5,138.35 L214.0,138.40 L214.5,138.46 L215.0,138.51 L215.5,138.57 L216.0,138.63 L216.5,138.69 L217.0,138.75 L217.5,138.82 L218.0,138.89 L218.5,138.96 L219.0,139.04 L219.5,139.12 L220.0,139.21 L220.5,139.31 L221.0,139.41 L221.5,139.52 L222.0,139.64 L222.5,139.77 L223.0,139.90 L223.5,140.04 L224.0,140.19 L224.5,140.35 L225.0,140.52 L225.5,140.70 L226.0,140.88 L226.5,141.06 L227.0,141.26 L227.5,141.46 L228.0,141.67 L228.5,141.88 L229.0,142.10 L229.5,142.33 L230.0,142.56 L230.5,142.80 L231.0,143.04 L231.5,143.29 L232.0,143.54 L232.5,143.79 L233.0,144.05 L233.5,144.32 L234.0,144.59 L234.5,144.86 L235.0,145.14 L235.5,145.43 L236.0,145.72 L236.5,146.02 L237.0,146.32 L237.5,146.63 L238.0,146.94 L238.5,147.25 L239.0,147.57 L239.5,147.88 L240.0,148.20 L240.5,148.51 L241.0,148.83 L241.5,149.13 L242.0,149.44 L242.5,149.74 L243.0,150.04 L243.5,150.33 L244.0,150.62 L244.5,150.91 L245.0,151.19 L245.5,151.47 L246.0,151.75 L246.5,152.03 L247.0,152.31 L247.5,152.58 L248.0,152.86 L248.5,153.13 L249.0,153.40 L249.5,153.66 L250.0,153.92 L250.5,154.17 L251.0,154.41 L251.5,154.65 L252.0,154.87 L252.5,155.09 L253.0,155.29 L253.5,155.48 L254.0,155.66 L254.5,155.83 L255.0,155.99 L255.5,156.14 L256.0,156.27 L256.5,156.40 L257.0,156.51 L257.5,156.61 L258.0,156.71 L258.5,156.79 L259.0,156.86 L259.5,156.92 L260.0,156.96 L260.5,157.00 L261.0,157.02 L261.5,157.03 L262.0,157.02 L262.5,157.00 L263.0,156.98 L263.5,156.93 L264.0,156.88 L264.5,156.82 L265.0,156.74 L265.5,156.65 L266.0,156.55 L266.5,156.44 L267.0,156.31 L267.5,156.16 L268.0,156.01 L268.5,155.83 L269.0,155.65 L269.5,155.44 L270.0,155.23 L270.5,155.00 L271.0,154.76 L271.5,154.50 L272.0,154.24 L272.5,153.97 L273.0,153.68 L273.5,153.39 L274.0,153.08 L274.5,152.77 L275.0,152.45 L275.5,152.12 L276.0,151.79 L276.5,151.45 L277.0,151.10 L277.5,150.74 L278.0,150.39 L278.5,150.03 L279.0,149.66 L279.5,149.30 L280.0,148.94 L280.5,148.58 L281.0,148.22 L281.5,147.87 L282.0,147.52 L282.5,147.18 L283.0,146.85 L283.5,146.53 L284.0,146.23 L284.5,145.93 L285.0,145.65 L285.5,145.38 L286.0,145.12 L286.5,144.87 L287.0,144.63 L287.5,144.41 L288.0,144.19 L288.5,143.99 L289.0,143.79 L289.5,143.61 L290.0,143.43 L290.5,143.26 L291.0,143.09 L291.5,142.94 L292.0,142.80 L292.5,142.67 L293.0,142.55 L293.5,142.44 L294.0,142.34 L294.5,142.25 L295.0,142.18 L295.5,142.11 L296.0,142.06 L296.5,142.01 L297.0,141.97 L297.5,141.95 L298.0,141.93 L298.5,141.92 L299.0,141.93 L299.5,141.94 L300.0,141.96 L300.5,141.98 L301.0,142.02 L301.5,142.07 L302.0,142.12 L302.5,142.18 L303.0,142.24 L303.5,142.32 L304.0,142.40 L304.5,142.49 L305.0,142.58 L305.5,142.68 L306.0,142.79 L306.5,142.91 L307.0,143.04 L307.5,143.18 L308.0,143.32 L308.5,143.47 L309.0,143.63 L309.5,143.80 L310.0,143.98 L310.5,144.16 L311.0,144.36 L311.5,144.55 L312.0,144.76 L312.5,144.97 L313.0,145.19 L313.5,145.42 L314.0,145.65 L314.5,145.90 L315.0,146.15 L315.5,146.41 L316.0,146.67 L316.5,146.95 L317.0,147.24 L317.5,147.53 L318.0,147.84 L318.5,148.16 L319.0,148.48 L319.5,148.82 L320.0,149.16 L320.5,149.52 L321.0,149.88 L321.5,150.25 L322.0,150.62 L322.5,151.00 L323.0,151.38 L323.5,151.77 L324.0,152.16 L324.5,152.56 L325.0,152.95 L325.5,153.35 L326.0,153.75 L326.5,154.15 L327.0,154.55 L327.5,154.95 L328.0,155.35 L328.5,155.75 L329.0,156.15 L329.5,156.55 L330.0,156.95 L330.5,157.35 L331.0,157.75 L331.5,158.14 L332.0,158.54 L332.5,158.93 L333.0,159.32 L333.5,159.71 L334.0,160.10 L334.5,160.49 L335.0,160.88 L335.5,161.27 L336.0,161.66 L336.5,162.05 L337.0,162.45 L337.5,162.84 L338.0,163.24 L338.5,163.65 L339.0,164.06 L339.5,164.47 L340.0,164.88 L340.5,165.30 L341.0,165.73 L341.5,166.16 L342.0,166.59 L342.5,167.03 L343.0,167.48 L343.5,167.92 L344.0,168.37 L344.5,168.83 L345.0,169.28 L345.5,169.74 L346.0,170.20 L346.5,170.65 L347.0,171.11 L347.5,171.56 L348.0,172.01 L348.5,172.46 L349.0,172.90 L349.5,173.34 L350.0,173.77 L350.5,174.20 L351.0,174.63 L351.5,175.05 L352.0,175.46 L352.5,175.87 L353.0,176.28 L353.5,176.68 L354.0,177.07 L354.5,177.47 L355.0,177.86 L355.5,178.25 L356.0,178.63 L356.5,179.01 L357.0,179.39 L357.5,179.77 L358.0,180.15 L358.5,180.53 L359.0,180.90 L359.5,181.27 L360.0,181.65 L360.5,182.02 L361.0,182.39 L361.5,182.76 L362.0,183.12 L362.5,183.49 L363.0,183.86 L363.5,184.22 L364.0,184.58 L364.5,184.95 L365.0,185.31 L365.5,185.67 L366.0,186.03 L366.5,186.39 L367.0,186.74 L367.5,187.10 L368.0,187.46 L368.5,187.82 L369.0,188.17 L369.5,188.53 L370.0,188.89 L370.5,189.25 L371.0,189.60 L371.5,189.96 L372.0,190.32 L372.5,190.68 L373.0,191.03 L373.5,191.39 L374.0,191.75 L374.5,192.11 L375.0,192.46 L375.5,192.82 L376.0,193.18 L376.5,193.53 L377.0,193.89 L377.5,194.24 L378.0,194.59 L378.5,194.94 L379.0,195.29 L379.5,195.64 L380.0,195.99 L380.5,196.33 L381.0,196.68 L381.5,197.02 L382.0,197.36 L382.5,197.70 L383.0,198.04 L383.5,198.38 L384.0,198.71 L384.5,199.05 L385.0,199.38 L385.5,199.71 L386.0,200.05 L386.5,200.38 L387.0,200.71 L387.5,201.04 L388.0,201.37 L388.5,201.70 L389.0,202.03 L389.5,202.36 L390.0,202.69 L390.5,203.02 L391.0,203.35 L391.5,203.68 L392.0,204.01 L392.5,204.34 L393.0,204.68 L393.5,205.01 L394.0,205.34"/>
<path stroke="#ff0000" stroke-width="2.0" d="M-2.0,204.58 L-1.5,204.24 L-1.0,203.91 L-0.5,203.58 L0.0,203.25 L0.5,202.91 L1.0,202.58 L1.5,202.25 L2.0,201.91 L2.5,201.58 L3.0,201.24 L3.5,200.91 L4.0,200.57 L4.5,200.24 L5.0,199.90 L5.5,199.56 L6.0,199.23 L6.5,198.89 L7.0,198.55 L7.5,198.21 L8.0,197.86 L8.5,197.52 L9.0,197.17 L9.5,196.83 L10.0,196.48 L10.5,196.13 L11.0,195.78 L11.5,195.43 L12.0,195.07 L12.5,194.72 L13.0,194.36 L13.5,194.00 L14.0,193.65 L14.5,193.29 L15.0,192.93 L15.5,192.57 L16.0,192.20 L16.5,191.84 L17.0,191.48 L17.5,191.12 L18.0,190.75 L18.5,190.39 L19.0,190.03 L19.5,189.67 L20.0,189.30 L20.5,188.94 L21.0,188.58 L21.5,188.22 L22.0,187.86 L22.5,187.50 L23.0,187.13 L23.5,186.77 L24.0,186.41 L24.5,186.05 L25.0,185.68 L25.5,185.32 L26.0,184.95 L26.5,184.59 L27.0,184.22 L27.5,183.85 L28.0,183.48 L28.5,183.11 L29.0,182.73 L29.5,182.36 L30.0,181.98 L30.5,181.60 L31.0,181.22 L31.5,180.84 L32.0,180.46 L32.5,180.08 L33.0,179.69 L33.5,179.31 L34.0,178.92 L34.5,178.53 L35.0,178.13 L35.5,177.74 L36.0,177.34 L36.5,176.94 L37.0,176.53 L37.5,176.13 L38.0,175.72 L38.5,175.30 L39.0,174.89 L39.5,174.47 L40.0,174.04 L40.5,173.61 L41.0,173.18 L41.5,172.74 L42.0,172.29 L42.5,171.85 L43.0,171.40 L43.5,170.95 L44.0,170.49 L44.5,170.03 L45.0,169.57 L45.5,169.11 L46.0,168.65 L46.5,168.19 L47.0,167.73 L47.5,167.27 L48.0,166.82 L48.5,166.36 L49.0,165.91 L49.5,165.46 L50.0,165.01 L50.5,164.57 L51.0,164.12 L51.5,163.69 L52.0,163.25 L52.5,162.81 L53.0,162.38 L53.5,161.95 L54.0,161.52 L54.5,161.10 L55.0,160.67 L55.5,160.24 L56.0,159.82 L56.5,159.39 L57.0,158.97 L57.5,158.54 L58.0,158.11 L58.5,157.68 L59.0,157.25 L59.5,156.82 L60.0,156.39 L60.5,155.95 L61.0,155.51 L61.5,155.07 L62.0,154.62 L62.5,154.18 L63.0,153.73 L63.5,153.28 L64.0,152.83 L64.5,152.38 L65.0,151.93 L65.5,151.49 L66.0,151.04 L66.5,150.60 L67.0,150.15 L67.5,149.72 L68.0,149.28 L68.5,148.85 L69.0,148.43 L69.5,148.01 L70.0,147.60 L70.5,147.20 L71.0,146.80 L71.5,146.40 L72.0,146.01 L72.5,145.64 L73.0,145.26 L73.5,144.90 L74.0,144.54 L74.5,144.19 L75.0,143.85 L75.5,143.53 L76.0,143.21 L76.5,142.90 L77.0,142.60 L77.5,142.31 L78.0,142.03 L78.5,141.76 L79.0,141.50 L79.5,141.24 L80.0,141.00 L80.5,140.76 L81.0,140.52 L81.5,140.29 L82.0,140.07 L82.5,139.84 L83.0,139.63 L83.5,139.41 L84.0,139.20 L84.5,138.98 L85.0,138.77 L85.5,138.57 L86.0,138.36 L86.5,138.16 L87.0,137.96 L87.5,137.76 L88.0,137.57 L88.5,137.38 L89.0,137.19 L89.5,137.01 L90.0,136.84 L90.5,136.67 L91.0,136.51 L91.5,136.36 L92.0,136.21 L92.5,136.06 L93.0,135.93 L93.5,135.80 L94.0,135.68 L94.5,135.56 L95.0,135.46 L95.5,135.36 L96.0,135.27 L96.5,135.19 L97.0,135.13 L97.5,135.07 L98.0,135.01 L98.5,134.97 L99.0,134.93 L99.5,134.90 L100.0,134.88 L100.5,134.85 L101.0,134.84 L101.5,134.82 L102.0,134.81 L102.5,134.80 L103.0,134.78 L103.5,134.77 L104.0,134.76 L104.5,134.75 L105.0,134.74 L105.5,134.73 L106.0,134.72 L106.5,134.70 L107.0,134.69 L107.5,134.67 L108.0,134.65 L108.5,134.64 L109.0,134.62 L109.5,134.59 L110.0,134.57 L110.5,134.55 L111.0,134.52 L111.5,134.49 L112.0,134.46 L112.5,134.43 L113.0,134.40 L113.5,134.36 L114.0,134.33 L114.5,134.29 L115.0,134.24 L115.5,134.19 L116.0,134.14 L116.5,134.08 L117.0,134.02 L117.5,133.95 L118.0,133.87 L118.5,133.78 L119.0,133.68 L119.5,133.58 L120.0,133.46 L120.5,133.33 L121.0,133.19 L121.5,133.04 L122.0,132.88 L122.5,132.71 L123.0,132.53 L123.5,132.33 L124.0,132.13 L124.5,131.91 L125.0,131.68 L125.5,131.44 L126.0,131.18 L126.5,130.91 L127.0,130.62 L127.5,130.32 L128.0,130.01 L128.5,129.68 L129.0,129.33 L129.5,128.97 L130.0,128.59 L130.5,128.19 L131.0,127.78 L131.5,127.36 L132.0,126.92 L132.5,126.46 L133.0,125.99 L133.5,125.50 L134.0,125.00 L134.5,124.48 L135.0,123.95 L135.5,123.41 L136.0,122.85 L136.5,122.29 L137.0,121.71 L137.5,121.12 L138.0,120.52 L138.5,119.92 L139.0,119.30 L139.5,118.67 L140.0,118.04 L140.5,117.40 L141.0,116.75 L141.5,116.10 L142.0,115.44 L142.5,114.78 L143.0,114.11 L143.5,113.44 L144.0,112.76 L144.5,112.08 L145.0,111.40 L145.5,110.72 L146.0,110.04 L146.5,109.37 L147.0,108.70 L147.5,108.03 L148.0,107.37 L148.5,106.72 L149.0,106.08 L149.5,105.45 L150.0,104.84 L150.5,104.24 L151.0,103.65 L151.5,103.08 L152.0,102.52 L152.5,101.97 L153.0,101.44 L153.5,100.92 L154.0,100.41 L154.5,99.91 L155.0,99.42 L155.5,98.94 L156.0,98.48 L156.5,98.02 L157.0,97.58 L157.5,97.14 L158.0,96.72 L158.5,96.31 L159.0,95.91 L159.5,95.53 L160.0,95.16 L160.5,94.80 L161.0,94.45 L161.5,94.12 L162.0,93.80 L162.5,93.49 L163.0,93.20 L163.5,92.92 L164.0,92.66 L164.5,92.40 L165.0,92.16 L165.5,91.94 L166.0,91.72 L166.5,91.52 L167.0,91.32 L167.5,91.14 L168.0,90.96 L168.5,90.79 L169.0,90.64 L169.5,90.49 L170.0,90.34 L170.5,90.21 L171.0,90.08 L171.5,89.95 L172.0,89.84 L172.5,89.73 L173.0,89.62 L173.5,89.52 L174.0,89.43 L174.5,89.34 L175.0,89.26 L175.5,89.18 L176.0,89.11 L176.5,89.04 L177.0,88.97 L177.5,88.91 L178.0,88.85 L178.5,88.80 L179.0,88.74 L179.5,88.70 L180.0,88.65 L180.5,88.61 L181.0,88.57 L181.5,88.53 L182.0,88.49 L182.5,88.46 L183.0,88.43 L183.5,88.40 L184.0,88.37 L184.5,88.34 L185.0,88.32 L185.5,88.30 L186.0,88.28 L186.5,88.26 L187.0,88.25 L187.5,88.23 L188.0,88.22 L188.5,88.21 L189.0,88.20 L189.5,88.19 L190.0,88.19 L190.5,88.18 L191.0,88.18 L191.5,88.17 L192.0,88.17 L192.5,88.16 L193.0,88.16 L193.5,88.16 L194.0,88.16 L194.5,88.16 L195.0,88.16 L195.5,88.16 L196.0,88.16 L196.5,88.16 L197.0,88.16 L197.5,88.16 L198.0,88.16 L198.5,88.16 L199.0,88.17 L199.5,88.17 L200.0,88.18 L200.5,88.18 L201.0,88.19 L201.5,88.19 L202.0,88.20 L202.5,88.21 L203.0,88.22 L203.5,88.23 L204.0,88.25 L204.5,88.26 L205.0,88.28 L205.5,88.30 L206.0,88.32 L206.5,88.34 L207.0,88.37 L207.5,88.40 L208.0,88.43 L208.5,88.46 L209.0,88.49 L209.5,88.53 L210.0,88.57 L210.5,88.61 L211.0,88.65 L211.5,88.70 L212.0,88.74 L212.5,88.80 L213.0,88.85 L213.5,88.91 L214.0,88.97 L214.5,89.04 L215.0,89.11 L215.5,89.18 L216.0,89.26 L216.5,89.34 L217.0,89.43 L217.5,89.52 L218.0,89.62 L218.5,89.73 L219.0,89.84 L219.5,89.95 L220.0,90.08 L220.5,90.21 L221.0,90.34 L221.5,90.49 L222.0,90.64 L222.5,90.79 L223.0,90.96 L223.5,91.14 L224.0,91.32 L224.5,91.52 L225.0,91.72 L225.5,91.94 L226.0,92.16 L226.5,92.40 L227.0,92.66 L227.5,92.92 L228.0,93.20 L228.5,93.49 L229.0,93.80 L229.5,94.12 L230.0,94.45 L230.5,94.80 L231.0,95.16 L231.5,95.53 L232.0,95.91 L232.5,96.31 L233.0,96.72 L233.5,97.14 L234.0,97.58 L234.5,98.02 L235.0,98.48 L235.5,98.94 L236.0,99.42 L236.5,99.91 L237.0,100.41 L237.5,100.92 L238.0,101.44 L238.5,101.97 L239.0,102.52 L239.5,103.08 L240.0,103.65 L240.5,104.24 L241.0,104.84 L241.5,105.45 L242.0,106.08 L242.5,106.72 L243.0,107.37 L243.5,108.03 L244.0,108.70 L244.5,109.37 L245.0,110.04 L245.5,110.72 L246.0,111.40 L246.5,112.08 L247.0,112.76 L247.5,113.44 L248.0,114.11 L248.5,114.78 L249.0,115.44 L249.5,116.10 L250.0,116.75 L250.5,117.40 L251.0,118.04 L251.5,118.67 L252.0,119.30 L252.5,119.92 L253.0,120.52 L253.5,121.12 L254.0,121.71 L254.5,122.29 L255.0,122.85 L255.5,123.41 L256.0,123.95 L256.5,124.48 L257.0,125.00 L257.5,125.50 L258.0,125.99 L258.5,126.46 L259.0,126.92 L259.5,127.36 L260.0,127.78 L260.5,128.19 L261.0,128.59 L261.5,128.97 L262.0,129.33 L262.5,129.68 L263.0,130.01 L263.5,130.32 L264.0,130.62 L264.5,130.91 L265.0,131.18 L265.5,131.44 L266.0,131.68 L266.5,131.91 L267.0,132.13 L267.5,132.33 L268.0,132.53 L268.5,132.71 L269.0,132.88 L269.5,133.04 L270.0,133.19 L270.5,133.33 L271.0,133.46 L271.5,133.58 L272.0,133.68 L272.5,133.78 L273.0,133.87 L273.5,133.95 L274.0,134.02 L274.5,134.08 L275.0,134.14 L275.5,134.19 L276.0,134.24 L276.5,134.29 L277.0,134.33 L277.5,134.36 L278.0,134.40 L278.5,134.43 L279.0,134.46 L279.5,134.49 L280.0,134.52 L280.5,134.55 L281.0,134.57 L281.5,134.59 L282.0,134.62 L282.5,134.64 L283.0,134.65 L283.5,134.67 L284.0,134.69 L284.5,134.70 L285.0,134.72 L285.5,134.73 L286.0,134.74 L286.5,134.75 L287.0,134.76 L287.5,134.77 L288.0,134.78 L288.5,134.80 L289.0,134.81 L289.5,134.82 L290.0,134.84 L290.5,134.85 L291.0,134.88 L291.5,134.90 L292.0,134.93 L292.5,134.97 L293.0,135.01 L293.5,135.07 L294.0,135.13 L294.5,135.19 L295.0,135.27 L295.5,135.36 L296.0,135.46 L296.5,135.56 L297.0,135.68 L297.5,135.80 L298.0,135.93 L298.5,136.06 L299.0,136.21 L299.5,136.36 L300.0,136.51 L300.5,136.67 L301.0,136.84 L301.5,137.01 L302.0,137.19 L302.5,137.38 L303.0,137.57 L303.5,137.76 L304.0,137.96 L304.5,138.16 L305.0,138.36 L305.5,138.57 L306.0,138.77 L306.5,138.98 L307.0,139.20 L307.5,139.41 L308.0,139.63 L308.5,139.84 L309.0,140.07 L309.5,140.29 L310.0,140.52 L310.5,140.76 L311.0,141.00 L311.5,141.24 L312.0,141.50 L312.5,141.76 L313.0,142.03 L313.5,142.31 L314.0,142.60 L314.5,142.90 L315.0,143.21 L315.5,143.53 L316.0,143.85 L316.5,144.19 L317.0,144.54 L317.5,144.90 L318.0,145.26 L318.5,145.64 L319.0,146.01 L319.5,146.40 L320.0,146.80 L320.5,147.20 L321.0,147.60 L321.5,148.01 L322.0,148.43 L322.5,148.85 L323.0,149.28 L323.5,149.72 L324.0,150.15 L324.5,150.60 L325.0,151.04 L325.5,151.49 L326.0,151.93 L326.5,152.38 L327.0,152.83 L327.5,153.28 L328.0,153.73 L328.5,154.18 L329.0,154.62 L329.5,155.07 L330.0,155.51 L330.5,155.95 L331.0,156.39 L331.5,156.82 L332.0,157.25 L332.5,157.68 L333.0,158.11 L333.5,158.54 L334.0,158.97 L334.5,159.39 L335.0,159.82 L335.5,160.24 L336.0,160.67 L336.5,161.10 L337.0,161.52 L337.5,161.95 L338.0,162.38 L338.5,162.81 L339.0,163.25 L339.5,163.69 L340.0,164.12 L340.5,164.57 L341.0,165.01 L341.5,165.46 L342.0,165.91 L342.5,166.36 L343.0,166.82 L343.5,167.27 L344.0,167.73 L344.5,168.19 L345.0,168.65 L345.5,169.11 L346.0,169.57 L346.5,170.03 L347.0,170.49 L347.5,170.95 L348.0,171.40 L348.5,171.85 L349.0,172.29 L349.5,172.74 L350.0,173.18 L350.5,173.61 L351.0,174.04 L351.5,174.47 L352.0,174.89 L352.5,175.30 L353.0,175.72 L353.5,176.13 L354.0,176.53 L354.5,176.94 L355.0,177.34 L355.5,177.74 L356.0,178.13 L356.5,178.53 L357.0,178.92 L357.5,179.31 L358.0,179.69 L358.5,180.08 L359.0,180.46 L359.5,180.84 L360.0,181.22 L360.5,181.60 L361.0,181.98 L361.5,182.36 L362.0,182.73 L362.5,183.11 L363.0,183.48 L363.5,183.85 L364.0,184.22 L364.5,184.59 L365.0,184.95 L365.5,185.32 L366.0,185.68 L366.5,186.05 L367.0,186.41 L367.5,186.77 L368.0,187.13 L368.5,187.50 L369.0,187.86 L369.5,188.22 L370.0,188.58 L370.5,188.94 L371.0,189.30 L371.5,189.67 L372.0,190.03 L372.5,190.39 L373.0,190.75 L373.5,191.12 L374.0,191.48 L374.5,191.84 L375.0,192.20 L375.5,192.57 L376.0,192.93 L376.5,193.29 L377.0,193.65 L377.5,194.00 L378.0,194.36 L378.5,194.72 L379.0,195.07 L379.5,195.43 L380.0,195.78 L380.5,196.13 L381.0,196.48 L381.5,196.83 L382.0,197.17 L382.5,197.52 L383.0,197.86 L383.5,198.21 L384.0,198.55 L384.5,198.89 L385.0,199.23 L385.5,199.56 L386.0,199.90 L386.5,200.24 L387.0,200.57 L387.5,200.91 L388.0,201.24 L388.5,201.58 L389.0,201.91 L389.5,202.25 L390.0,202.58 L390.5,202.91 L391.0,203.25 L391.5,203.58 L392.0,203.91 L392.5,204.24 L393.0,204.58 L393.5,204.91 L394.0,205.24"/>
<path stroke="#00ff00" stroke-width="2.0" d="M-2.0,204.47 L-1.5,204.14 L-1.0,203.81 L-0.5,203.48 L0.0,203.14 L0.5,202.81 L1.0,202.47 L1.5,202.13 L2.0,201.80 L2.5,201.46 L3.0,201.12 L3.5,200.78 L4.0,200.44 L4.5,200.10 L5.0,199.76 L5.5,199.41 L6.0,199.07 L6.5,198.73 L7.0,198.38 L7.5,198.03 L8.0,197.69 L8.5,197.34 L9.0,196.99 L9.5,196.63 L10.0,196.28 L10.5,195.93 L11.0,195.57 L11.5,195.21 L12.0,194.85 L12.5,194.49 L13.0,194.13 L13.5,193.77 L14.0,193.41 L14.5,193.04 L15.0,192.68 L15.5,192.31 L16.0,191.94 L16.5,191.58 L17.0,191.21 L17.5,190.84 L18.0,190.48 L18.5,190.11 L19.0,189.74 L19.5,189.38 L20.0,189.01 L20.5,188.64 L21.0,188.28 L21.5,187.91 L22.0,187.55 L22.5,187.18 L23.0,186.82 L23.5,186.45 L24.0,186.09 L24.5,185.72 L25.0,185.35 L25.5,184.98 L26.0,184.61 L26.5,184.24 L27.0,183.86 L27.5,183.49 L28.0,183.11 L28.5,182.72 L29.0,182.33 L29.5,181.94 L30.0,181.55 L30.5,181.15 L31.0,180.75 L31.5,180.35 L32.0,179.94 L32.5,179.53 L33.0,179.11 L33.5,178.69 L34.0,178.27 L34.5,177.85 L35.0,177.42 L35.5,177.00 L36.0,176.57 L36.5,176.14 L37.0,175.71 L37.5,175.27 L38.0,174.84 L38.5,174.40 L39.0,173.97 L39.5,173.53 L40.0,173.09 L40.5,172.65 L41.0,172.21 L41.5,171.77 L42.0,171.33 L42.5,170.89 L43.0,170.45 L43.5,170.00 L44.0,169.56 L44.5,169.11 L45.0,168.67 L45.5,168.22 L46.0,167.77 L46.5,167.32 L47.0,166.87 L47.5,166.42 L48.0,165.97 L48.5,165.52 L49.0,165.07 L49.5,164.62 L50.0,164.16 L50.5,163.71 L51.0,163.26 L51.5,162.80 L52.0,162.35 L52.5,161.89 L53.0,161.44 L53.5,160.98 L54.0,160.53 L54.5,160.07 L55.0,159.61 L55.5,159.15 L56.0,158.70 L56.5,158.24 L57.0,157.78 L57.5,157.33 L58.0,156.87 L58.5,156.42 L59.0,155.96 L59.5,155.51 L60.0,155.05 L60.5,154.60 L61.0,154.15 L61.5,153.70 L62.0,153.25 L62.5,152.80 L63.0,152.35 L63.5,151.90 L64.0,151.45 L64.5,151.00 L65.0,150.55 L65.5,150.11 L66.0,149.66 L66.5,149.21 L67.0,148.77 L67.5,148.32 L68.0,147.88 L68.5,147.43 L69.0,146.98 L69.5,146.54 L70.0,146.09 L70.5,145.65 L71.0,145.20 L71.5,144.75 L72.0,144.30 L72.5,143.86 L73.0,143.41 L73.5,142.96 L74.0,142.51 L74.5,142.06 L75.0,141.62 L75.5,141.17 L76.0,140.73 L76.5,140.28 L77.0,139.84 L77.5,139.41 L78.0,138.97 L78.5,138.54 L79.0,138.12 L79.5,137.70 L80.0,137.28 L80.5,136.87 L81.0,136.46 L81.5,136.06 L82.0,135.66 L82.5,135.27 L83.0,134.88 L83.5,134.50 L84.0,134.12 L84.5,133.75 L85.0,133.39 L85.5,133.03 L86.0,132.67 L86.5,132.33 L87.0,131.99 L87.5,131.65 L88.0,131.33 L88.5,131.01 L89.0,130.70 L89.5,130.39 L90.0,130.10 L90.5,129.81 L91.0,129.52 L91.5,129.24 L92.0,128.97 L92.5,128.70 L93.0,128.44 L93.5,128.18 L94.0,127.92 L94.5,127.67 L95.0,127.41 L95.5,127.17 L96.0,126.92 L96.5,126.67 L97.0,126.43 L97.5,126.18 L98.0,125.94 L98.5,125.70 L99.0,125.46 L99.5,125.23 L100.0,124.99 L100.5,124.76 L101.0,124.52 L101.5,124.29 L102.0,124.05 L102.5,123.82 L103.0,123.58 L103.5,123.35 L104.0,123.11 L104.5,122.86 L105.0,122.62 L105.5,122.37 L106.0,122.12 L106.5,121.87 L107.0,121.61 L107.5,121.35 L108.0,121.08 L108.5,120.81 L109.0,120.54 L109.5,120.26 L110.0,119.98 L110.5,119.69 L111.0,119.39 L111.5,119.09 L112.0,118.78 L112.5,118.45 L113.0,118.12 L113.5,117.77 L114.0,117.40 L114.5,117.02 L115.0,116.61 L115.5,116.19 L116.0,115.75 L116.5,115.28 L117.0,114.79 L117.5,114.28 L118.0,113.75 L118.5,113.19 L119.0,112.62 L119.5,112.03 L120.0,111.43 L120.5,110.81 L121.0,110.19 L121.5,109.55 L122.0,108.91 L122.5,108.26 L123.0,107.60 L123.5,106.94 L124.0,106.27 L124.5,105.59 L125.0,104.91 L125.5,104.21 L126.0,103.51 L126.5,102.81 L127.0,102.09 L127.5,101.36 L128.0,100.63 L128.5,99.89 L129.0,99.14 L129.5,98.38 L130.0,97.61 L130.5,96.83 L131.0,96.05 L131.5,95.25 L132.0,94.44 L132.5,93.62 L133.0,92.79 L133.5,91.95 L134.0,91.08 L134.5,90.20 L135.0,89.30 L135.5,88.38 L136.0,87.43 L136.5,86.46 L137.0,85.47 L137.5,84.46 L138.0,83.43 L138.5,82.38 L139.0,81.32 L139.5,80.25 L140.0,79.18 L140.5,78.10 L141.0,77.02 L141.5,75.95 L142.0,74.88 L142.5,73.81 L143.0,72.75 L143.5,71.70 L144.0,70.65 L144.5,69.61 L145.0,68.58 L145.5,67.55 L146.0,66.54 L146.5,65.54 L147.0,64.55 L147.5,63.58 L148.0,62.62 L148.5,61.68 L149.0,60.75 L149.5,59.84 L150.0,58.95 L150.5,58.08 L151.0,57.23 L151.5,56.40 L152.0,55.59 L152.5,54.79 L153.0,54.02 L153.5,53.28 L154.0,52.55 L154.5,51.84 L155.0,51.16 L155.5,50.50 L156.0,49.86 L156.5,49.25 L157.0,48.65 L157.5,48.08 L158.0,47.52 L158.5,46.98 L159.0,46.46 L159.5,45.96 L160.0,45.47 L160.5,44.99 L161.0,44.53 L161.5,44.08 L162.0,43.64 L162.5,43.21 L163.0,42.79 L163.5,42.38 L164.0,41.98 L164.5,41.58 L165.0,41.20 L165.5,40.82 L166.0,40.45 L166.5,40.10 L167.0,39.75 L167.5,39.41 L168.0,39.09 L168.5,38.78 L169.0,38.48 L169.5,38.20 L170.0,37.94 L170.5,37.69 L171.0,37.46 L171.5,37.24 L172.0,37.04 L172.5,36.86 L173.0,36.69 L173.5,36.53 L174.0,36.39 L174.5,36.25 L175.0,36.13 L175.5,36.02 L176.0,35.92 L176.5,35.83 L177.0,35.74 L177.5,35.66 L178.0,35.59 L178.5,35.53 L179.0,35.47 L179.5,35.41 L180.0,35.36 L180.5,35.31 L181.0,35.27 L181.5,35.23 L182.0,35.19 L182.5,35.15 L183.0,35.12 L183.5,35.09 L184.0,35.06 L184.5,35.03 L185.0,35.01 L185.5,34.98 L186.0,34.96 L186.5,34.94 L187.0,34.92 L187.5,34.91 L188.0,34.89 L188.5,34.88 L189.0,34.87 L189.5,34.86 L190.0,34.85 L190.5,34.84 L191.0,34.83 L191.5,34.83 L192.0,34.82 L192.5,34.82 L193.0,34.82 L193.5,34.81 L194.0,34.81 L194.5,34.81 L195.0,34.81 L195.5,34.81 L196.0,34.81 L196.5,34.81 L197.0,34.81 L197.5,34.81 L198.0,34.82 L198.5,34.82 L199.0,34.82 L199.5,34.83 L200.0,34.83 L200.5,34.84 L201.0,34.85 L201.5,34.86 L202.0,34.87 L202.5,34.88 L203.0,34.89 L203.5,34.91 L204.0,34.92 L204.5,34.94 L205.0,34.96 L205.5,34.98 L206.0,35.01 L206.5,35.03 L207.0,35.06 L207.5,35.09 L208.0,35.12 L208.5,35.15 L209.0,35.19 L209.5,35.23 L210.0,35.27 L210.5,35.31 L211.0,35.36 L211.5,35.41 L212.0,35.47 L212.5,35.53 L213.0,35.59 L213.5,35.66 L214.0,35.74 L214.5,35.83 L215.0,35.92 L215.5,36.02 L216.0,36.13 L216.5,36.25 L217.0,36.39 L217.5,36.53 L218.0,36.69 L218.5,36.86 L219.0,37.04 L219.5,37.24 L220.0,37.46 L220.5,37.69 L221.0,37.94 L221.5,38.20 L222.0,38.48 L222.5,38.78 L223.0,39.09 L223.5,39.41 L224.0,39.75 L224.5,40.10 L225.0,40.45 L225.5,40.82 L226.0,41.20 L226.5,41.58 L227.0,41.98 L227.5,42.38 L228.0,42.79 L228.5,43.21 L229.0,43.64 L229.5,44.08 L230.0,44.53 L230.5,44.99 L231.0,45.47 L231.5,45.96 L232.0,46.46 L232.5,46.98 L233.0,47.52 L233.5,48.08 L234.0,48.65 L234.5,49.25 L235.0,49.86 L235.5,50.50 L236.0,51.16 L236.5,51.84 L237.0,52.55 L237.5,53.28 L238.0,54.02 L238.5,54.79 L239.0,55.59 L239.5,56.40 L240.0,57.23 L240.5,58.08 L241.0,58.95 L241.5,59.84 L242.0,60.75 L242.5,61.68 L243.0,62.62 L243.5,63.58 L244.0,64.55 L244.5,65.54 L245.0,66.54 L245.5,67.55 L246.0,68.58 L246.5,69.61 L247.0,70.65 L247.5,71.70 L248.0,72.75 L248.5,73.81 L249.0,74.88 L249.5,75.95 L250.0,77.02 L250.5,78.10 L251.0,79.18 L251.5,80.25 L252.0,81.32 L252.5,82.38 L253.0,83.43 L253.5,84.46 L254.0,85.47 L254.5,86.46 L255.0,87.43 L255.5,88.38 L256.0,89.30 L256.5,90.20 L257.0,91.08 L257.5,91.95 L258.0,92.79 L258.5,93.62 L259.0,94.44 L259.5,95.25 L260.0,96.05 L260.5,96.83 L261.0,97.61 L261.5,98.38 L262.0,99.14 L262.5,99.89 L263.0,100.63 L263.5,101.36 L264.0,102.09 L264.5,102.81 L265.0,103.51 L265.5,104.21 L266.0,104.91 L266.5,105.59 L267.0,106.27 L267.5,106.94 L268.0,107.60 L268.5,108.26 L269.0,108.91 L269.5,109.55 L270.0,110.19 L270.5,110.81 L271.0,111.43 L271.5,112.03 L272.0,112.62 L272.5,113.19 L273.0,113.75 L273.5,114.28 L274.0,114.79 L274.5,115.28 L275.0,115.75 L275.5,116.19 L276.0,116.61 L276.5,117.02 L277.0,117.40 L277.5,117.77 L278.0,118.12 L278.5,118.45 L279.0,118.78 L279.5,119.09 L280.0,119.39 L280.5,119.69 L281.0,119.98 L281.5,120.26 L282.0,120.54 L282.5,120.81 L283.0,121.08 L283.5,121.35 L284.0,121.61 L284.5,121.87 L285.0,122.12 L285.5,122.37 L286.0,122.62 L286.5,122.86 L287.0,123.11 L287.5,123.35 L288.0,123.58 L288.5,123.82 L289.0,124.05 L289.5,124.29 L290.0,124.52 L290.5,124.76 L291.0,124.99 L291.5,125.23 L292.0,125.46 L292.5,125.70 L293.0,125.94 L293.5,126.18 L294.0,126.43 L294.5,126.67 L295.0,126.92 L295.5,127.17 L296.0,127.41 L296.5,127.67 L297.0,127.92 L297.5,128.18 L298.0,128.44 L298.5,128.70 L299.0,128.97 L299.5,129.24 L300.0,129.52 L300.5,129.81 L301.0,130.10 L301.5,130.39 L302.0,130.70 L302.5,131.01 L303.0,131.33 L303.5,131.65 L304.0,131.99 L304.5,132.33 L305.0,132.67 L305.5,133.03 L306.0,133.39 L306.5,133.75 L307.0,134.12 L307.5,134.50 L308.0,134.88 L308.5,135.27 L309.0,135.66 L309.5,136.06 L310.0,136.46 L310.5,136.87 L311.0,137.28 L311.5,137.70 L312.0,138.12 L312.5,138.54 L313.0,138.97 L313.5,139.41 L314.0,139.84 L314.5,140.28 L315.0,140.73 L315.5,141.17 L316.0,141.62 L316.5,142.06 L317.0,142.51 L317.5,142.96 L318.0,143.41 L318.5,143.86 L319.0,144.30 L319.5,144.75 L320.0,145.20 L320.5,145.65 L321.0,146.09 L321.5,146.54 L322.0,146.98 L322.5,147.43 L323.0,147.88 L323.5,148.32 L324.0,148.77 L324.5,149.21 L325.0,149.66 L325.5,150.11 L326.0,150.55 L326.5,151.00 L327.0,151.45 L327.5,151.90 L328.0,152.35 L328.5,152.80 L329.0,153.25 L329.5,153.70 L330.0,154.15 L330.5,154.60 L331.0,155.05 L331.5,155.51 L332.0,155.96 L332.5,156.42 L333.0,156.87 L333.5,157.33 L334.0,157.78 L334.5,158.24 L335.0,158.70 L335.5,159.15 L336.0,159.61 L336.5,160.07 L337.0,160.53 L337.5,160.98 L338.0,161.44 L338.5,161.89 L339.0,162.35 L339.5,162.80 L340.0,163.26 L340.5,163.71 L341.0,164.16 L341.5,164.62 L342.0,165.07 L342.5,165.52 L343.0,165.97 L343.5,166.42 L344.0,166.87 L344.5,167.32 L345.0,167.77 L345.5,168.22 L346.0,168.67 L346.5,169.11 L347.0,169.56 L347.5,170.00 L348.0,170.45 L348.5,170.89 L349.0,171.33 L349.5,171.77 L350.0,172.21 L350.5,172.65 L351.0,173.09 L351.5,173.53 L352.0,173.97 L352.5,174.40 L353.0,174.84 L353.5,175.27 L354.0,175.71 L354.5,176.14 L355.0,176.57 L355.5,177.00 L356.0,177.42 L356.5,177.85 L357.0,178.27 L357.5,178.69 L358.0,179.11 L358.5,179.53 L359.0,179.94 L359.5,180.35 L360.0,180.75 L360.5,181.15 L361.0,181.55 L361.5,181.94 L362.0,182.33 L362.5,182.72 L363.0,183.11 L363.5,183.49 L364.0,183.86 L364.5,184.24 L365.0,184.61 L365.5,184.98 L366.0,185.35 L366.5,185.72 L367.0,186.09 L367.5,186.45 L368.0,186.82 L368.5,187.18 L369.0,187.55 L369.5,187.91 L370.0,188.28 L370.5,188.64 L371.0,189.01 L371.5,189.38 L372.0,189.74 L372.5,190.11 L373.0,190.48 L373.5,190.84 L374.0,191.21 L374.5,191.58 L375.0,191.94 L375.5,192.31 L376.0,192.68 L376.5,193.04 L377.0,193.41 L377.5,193.77 L378.0,194.13 L378.5,194.49 L379.0,194.85 L379.5,195.21 L380.0,195.57 L380.5,195.93 L381.0,196.28 L381.5,196.63 L382.0,196.99 L382.5,197.34 L383.0,197.69 L383.5,198.03 L384.0,198.38 L384.5,198.73 L385.0,199.07 L385.5,199.41 L386.0,199.76 L386.5,200.10 L387.0,200.44 L387.5,200.78 L388.0,201.12 L388.5,201.46 L389.0,201.80 L389.5,202.13 L390.0,202.47 L390.5,202.81 L391.0,203.14 L391.5,203.48 L392.0,203.81 L392.5,204.14 L393.0,204.47 L393.5,204.81 L394.0,205.14"/>
</g>
<g stroke="#222" stroke-width="1" fill="none">
<line x1="195.5" y1="0" x2="195.5" y2="309"/>
<line x1="0.25" y1="267.4" x2="0.25" y2="274"/>
<line x1="48.85" y1="267.4" x2="48.85" y2="274"/>
<line x1="97.6" y1="267.4" x2="97.6" y2="274"/>
<line x1="146.55" y1="267.4" x2="146.55" y2="274"/>
<line x1="244.45" y1="267.4" x2="244.45" y2="274"/>
<line x1="293.4" y1="267.4" x2="293.4" y2="274"/>
<line x1="342.45" y1="267.4" x2="342.45" y2="274"/>
<line x1="391.5" y1="267.4" x2="391.5" y2="274"/>
<line x1="196" y1="0.15" x2="200.6" y2="0.15"/>
<line x1="196" y1="34.72" x2="200.6" y2="34.72"/>
<line x1="196" y1="68.94" x2="200.6" y2="68.94"/>
<line x1="196" y1="103.17" x2="200.6" y2="103.17"/>
<line x1="196" y1="137.39" x2="200.6" y2="137.39"/>
<line x1="196" y1="171.61" x2="200.6" y2="171.61"/>
<line x1="196" y1="205.83" x2="200.6" y2="205.83"/>
<line x1="196" y1="240.05" x2="200.6" y2="240.05"/>
<line x1="196" y1="308.50" x2="200.6" y2="308.50"/>
</g>
<g font-size="8.5px" stroke="#000" stroke-width="0.12">
<text x="-0.3" y="283.9" text-anchor="start">–2</text>
<text x="37.8" y="283.9" text-anchor="start">–1.5</text>
<text x="91.2" y="282.9" text-anchor="start">–1</text>
<text x="134.2" y="283.9" text-anchor="start">–0.5</text>
<text x="243.85" y="283.9" text-anchor="middle">0.5</text>
<text x="292.9" y="283.9" text-anchor="middle">1</text>
<text x="340.3" y="283.9" text-anchor="middle">1.5</text>
<text x="388.0" y="282.9" text-anchor="start">2</text>
<text x="192.5" y="9.40" text-anchor="end">1.6</text>
<text x="192.5" y="38.50" text-anchor="end">1.4</text>
<text x="192.5" y="73.20" text-anchor="end">1.2</text>
<text x="192.5" y="106.30" text-anchor="end">1</text>
<text x="192.5" y="142.00" text-anchor="end">0.8</text>
<text x="192.5" y="174.90" text-anchor="end">0.6</text>
<text x="192.5" y="208.30" text-anchor="end">0.4</text>
<text x="192.5" y="243.30" text-anchor="end">0.2</text>
<text x="194.0" y="284.30" text-anchor="end">0</text>
<text x="194.0" y="309.00" text-anchor="end">–0.2</text>
</g>
<text transform="translate(199.4,14.7) scale(0.9,1)" font-size="14px">V</text>
<text x="208.0" y="21.8" font-size="10.2px" letter-spacing="0.3">eff</text>
<text x="381.0" y="267.3" font-size="14px" stroke="#000" stroke-width="0.35">φ</text>
</svg>
</body></html>
